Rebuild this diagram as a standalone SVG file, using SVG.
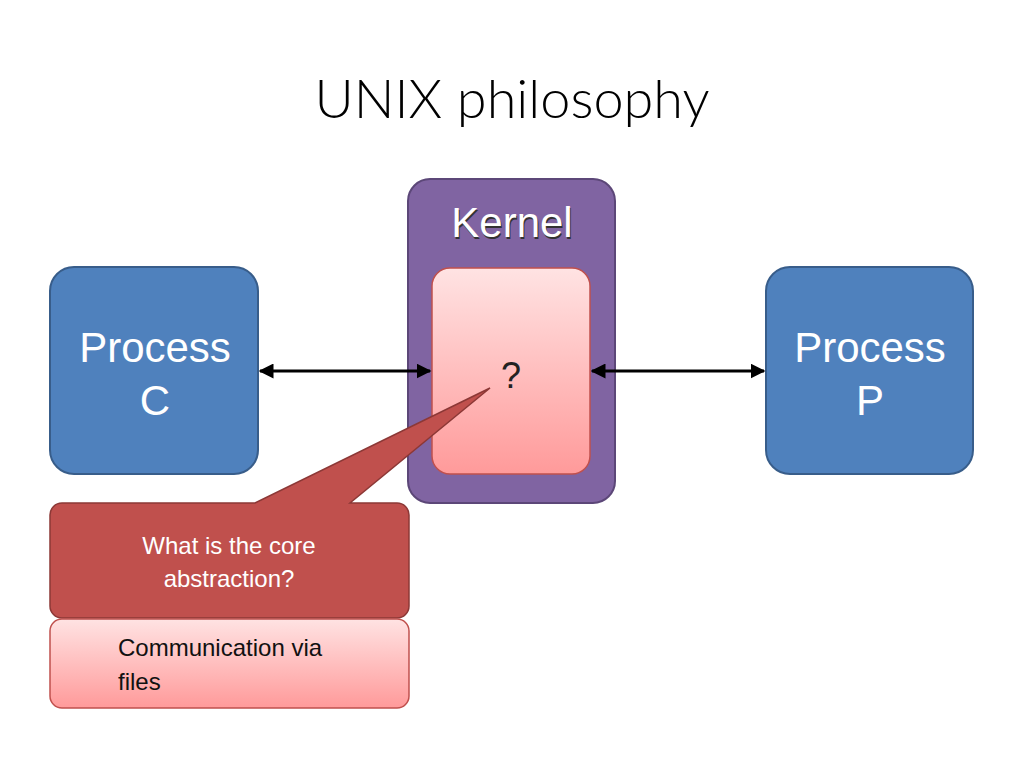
<svg xmlns="http://www.w3.org/2000/svg" width="1024" height="768" viewBox="0 0 1024 768">
<defs>
<linearGradient id="pink" x1="0" y1="0" x2="0" y2="1"><stop offset="0" stop-color="#ffe3e3"/><stop offset="1" stop-color="#ff9a9a"/></linearGradient>
<marker id="ah" viewBox="0 0 10 10" refX="9" refY="5" markerWidth="5" markerHeight="5" orient="auto-start-reverse"><path d="M0,0L10,5L0,10z" fill="#000"/></marker>
</defs>
<style>
.proc{fill:#4f81bd;stroke:#385d8a;stroke-width:2}
.pt{font-family:"Liberation Sans",Arial,sans-serif;font-size:42px;fill:#fff;text-anchor:middle}
.conn{stroke:#000;stroke-width:3;marker-start:url(#ah);marker-end:url(#ah)}
</style>
<rect width="1024" height="768" fill="#fff"/>
<text x="512" y="118" font-family="Lato,'Liberation Sans',sans-serif" font-weight="300" font-size="54" fill="#000" text-anchor="middle">UNIX philosophy</text>
<g id="kernel">
<rect x="408" y="179" width="207" height="324" rx="22" fill="#8064a2" stroke="#5c4778" stroke-width="2"/>
<text x="513" y="239" class="pt" fill="#000" style="fill:#333">Kernel</text>
<text x="512" y="237" class="pt">Kernel</text>
</g>
<g id="core">
<rect x="432" y="268" width="158" height="206" rx="18" fill="url(#pink)" stroke="#c0504d" stroke-width="1.5"/>
<text x="511" y="388" font-family="'Liberation Sans',Arial,sans-serif" font-size="36" fill="#222" text-anchor="middle">?</text>
</g>
<g id="processC">
<rect x="50" y="267" width="208" height="207" rx="24" class="proc"/>
<text x="155" y="362" class="pt">Process</text><text x="155" y="415" class="pt">C</text>
</g>
<g id="processP">
<rect x="766" y="267" width="207" height="207" rx="24" class="proc"/>
<text x="870" y="362" class="pt">Process</text><text x="870" y="415" class="pt">P</text>
</g>
<g id="connectors">
<line x1="260" y1="371" x2="430" y2="371" class="conn"/>
<line x1="592" y1="371" x2="764" y2="371" class="conn"/>
</g>
<g id="callout">
<path d="M62,503H255L490,388L350,503H397A12,12 0 0 1 409,515V606A12,12 0 0 1 397,618H62A12,12 0 0 1 50,606V515A12,12 0 0 1 62,503Z" fill="#c0504d" stroke="#8c3836" stroke-width="1.5"/>
<text x="229" y="554" font-family="'Liberation Sans',Arial,sans-serif" font-size="24" fill="#fff" text-anchor="middle">What is the core</text>
<text x="229" y="587" font-family="'Liberation Sans',Arial,sans-serif" font-size="24" fill="#fff" text-anchor="middle">abstraction?</text>
</g>
<g id="answer">
<rect x="50" y="619" width="359" height="89" rx="12" fill="url(#pink)" stroke="#c0504d" stroke-width="1.5"/>
<text x="118" y="656" font-family="'Liberation Sans',Arial,sans-serif" font-size="24" fill="#111">Communication via</text>
<text x="118" y="690" font-family="'Liberation Sans',Arial,sans-serif" font-size="24" fill="#111">files</text>
</g>
</svg>
